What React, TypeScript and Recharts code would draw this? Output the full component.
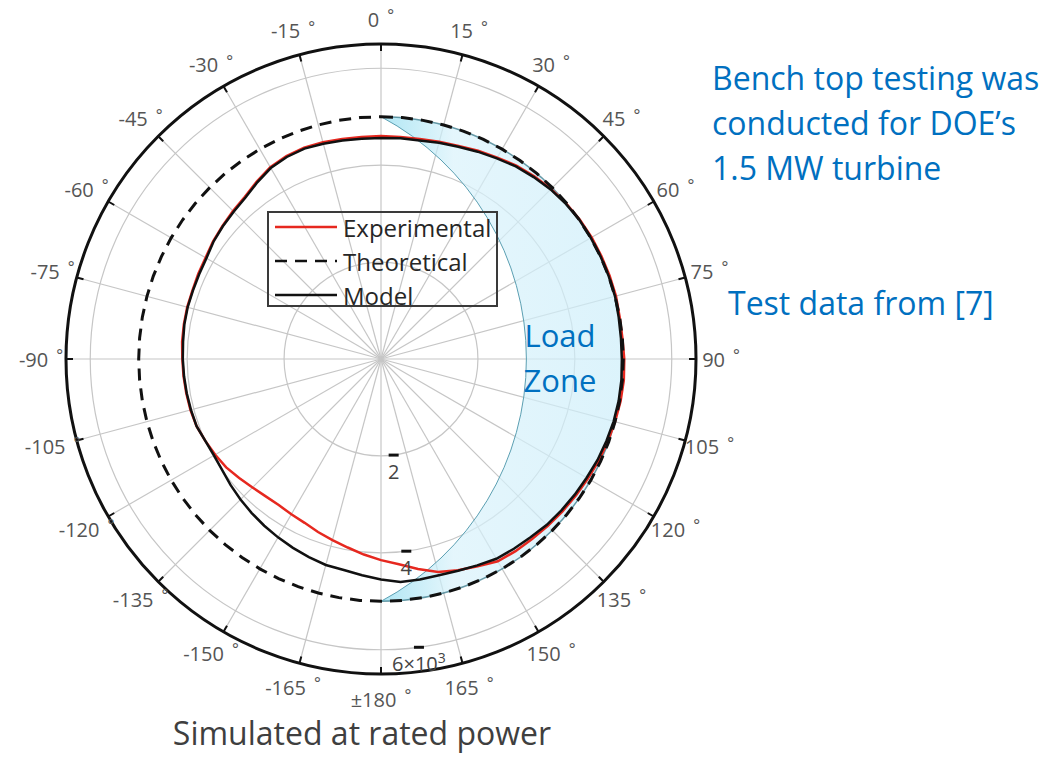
import { RadarChart, Radar, PolarGrid, PolarAngleAxis, PolarRadiusAxis, Legend } from 'recharts';

const ANGLES = [
  0, 5, 10, 15, 20, 25, 30, 35, 40, 45, 50, 55, 60, 65, 70, 75, 80, 85, 90, 95, 100, 105, 110, 115,
  120, 125, 130, 135, 140, 145, 150, 155, 160, 165, 170, 175, 180, 185, 190, 195, 200, 205, 210, 215,
  220, 225, 230, 235, 240, 245, 250, 255, 260, 265, 270, 275, 280, 285, 290, 295, 300, 305, 310, 315,
  320, 325, 330, 335, 340, 345, 350, 355,
];

const EXPERIMENTAL = [
  4600, 4600, 4610, 4640, 4680, 4740, 4800, 4870, 4920, 4960, 4990, 5010,
  5020, 5020, 5020, 5020, 5000, 5000, 5020, 5030, 5020, 5000, 4980, 4960,
  4930, 4910, 4890, 4870, 4850, 4840, 4820, 4720, 4640, 4550, 4400, 4250,
  4150, 4050, 3950, 3870, 3800, 3730, 3700, 3680, 3700, 3750, 3820, 3900,
  3950, 4000, 4050, 4070, 4080, 4090, 4100, 4120, 4130, 4140, 4140, 4160,
  4180, 4230, 4270, 4320, 4370, 4470, 4570, 4620, 4640, 4630, 4610, 4600,
];

const THEORETICAL = [
  5000, 5000, 5000, 5000, 5000, 5000, 5000, 5000, 5000, 5000, 5000, 5000,
  5000, 5000, 5000, 5000, 5000, 5000, 5000, 5000, 5000, 5000, 5000, 5000,
  5000, 5000, 5000, 5000, 5000, 5000, 5000, 5000, 5000, 5000, 5000, 5000,
  5000, 5000, 5000, 5000, 5000, 5000, 5000, 5000, 5000, 5000, 5000, 5000,
  5000, 5000, 5000, 5000, 5000, 5000, 5000, 5000, 5000, 5000, 5000, 5000,
  5000, 5000, 5000, 5000, 5000, 5000, 5000, 5000, 5000, 5000, 5000, 5000,
];

const MODEL = [
  4560, 4570, 4580, 4620, 4660, 4720, 4780, 4850, 4900, 4950, 4980, 5000,
  5000, 5000, 5000, 5000, 4980, 4970, 4970, 4980, 4980, 4970, 4950, 4930,
  4900, 4880, 4860, 4840, 4800, 4780, 4760, 4700, 4650, 4620, 4620, 4620,
  4550, 4480, 4420, 4400, 4350, 4300, 4250, 4200, 4150, 4100, 4050, 4000,
  3980, 4000, 4050, 4060, 4070, 4080, 4090, 4100, 4120, 4130, 4130, 4140,
  4160, 4220, 4260, 4300, 4350, 4450, 4550, 4600, 4620, 4600, 4580, 4560,
];

const SERIES_ORDER = ['Experimental', 'Theoretical', 'Model'];
const ANGLE_TICKS = [0, 15, 30, 45, 60, 75, 90, 105, 120, 135, 150, 165, 180, 195, 210, 225, 240, 255, 270, 285, 300, 315, 330, 345];
const RADIUS_TICKS = [2000, 4000, 6000];
const RADIUS_MAX = 6500;

// load zone: crescent between the theoretical circle and an arc reaching this radius at 90°
const LOAD_ZONE_OUTER = 5000;
const LOAD_ZONE_INNER = 3000;

const data = ANGLES.map((angle, i) => ({
  angle,
  experimental: EXPERIMENTAL[i],
  theoretical: THEORETICAL[i],
  model: MODEL[i],
}));

const W = 1049;
const H = 757;
const CX = 381;
const CY = 359;
const OUTER = 315;
const BLUE = '#0070c0';
const TICK_FONT = '"Open Sans", "Noto Sans", sans-serif';
const NOTE_FONT = '"Open Sans", "Noto Sans", sans-serif';

const angleLabel = (a: number) => (a === 180 ? '±180' : a > 180 ? `-${360 - a}` : `${a}`);

const AngleTick = (props: any) => {
  const { x, y, payload } = props;
  const a = Number(payload.value);
  if (a % 15 !== 0) return <g />;
  const dx = x - CX;
  const dy = y - CY;
  const len = Math.hypot(dx, dy) || 1;
  const ux = dx / len;
  const uy = dy / len;
  const lr = OUTER + 25;
  return (
    <g>
      <line
        x1={CX + ux * OUTER}
        y1={CY + uy * OUTER}
        x2={CX + ux * (OUTER - 7)}
        y2={CY + uy * (OUTER - 7)}
        stroke="#111"
        strokeWidth={2}
      />
      <text
        x={CX + ux * lr}
        y={CY + uy * lr}
        textAnchor="middle"
        dominantBaseline="central"
        fontFamily={TICK_FONT}
        fontSize={20}
        fill="#555"
      >
        {angleLabel(a)}
        <tspan dx={8} fontSize={16} dy={-4}>°</tspan>
      </text>
    </g>
  );
};

const RadiusTick = (props: any) => {
  const { x, y, payload } = props;
  const v = Number(payload.value) / 1000;
  return (
    <g>
      <line x1={x - 5} y1={y} x2={x + 5} y2={y} stroke="#111" strokeWidth={3} />
      <text x={x} y={y + 24} textAnchor="middle" fontFamily={TICK_FONT} fontSize={20} fill="#444">
        {v === 6 ? (
          <>
            6×10<tspan fontSize={14} dy={-8}>3</tspan>
          </>
        ) : (
          v
        )}
      </text>
    </g>
  );
};

const LoadZone = () => {
  const ro = (LOAD_ZONE_OUTER / RADIUS_MAX) * OUTER;
  const s = (LOAD_ZONE_INNER / RADIUS_MAX) * OUTER;
  const R = (ro * ro + s * s) / (2 * s);
  const d = `M ${CX} ${CY - ro} A ${ro} ${ro} 0 0 1 ${CX} ${CY + ro} A ${R} ${R} 0 0 0 ${CX} ${CY - ro} Z`;
  return (
    <g>
      <defs>
        <linearGradient id="lz" x1="0" y1="0" x2="1" y2="0">
          <stop offset="0%" stopColor="#8fdcef" />
          <stop offset="30%" stopColor="#d9f2fb" />
          <stop offset="100%" stopColor="#cdeefa" />
        </linearGradient>
      </defs>
      <path d={d} fill="url(#lz)" fillOpacity={0.7} stroke="none" />
      <path d={`M ${CX} ${CY - ro} A ${ro} ${ro} 0 0 1 ${CX} ${CY + ro}`} fill="none" stroke="#2b6f80" strokeWidth={1.5} strokeOpacity={0.7} />
      <path d={`M ${CX} ${CY + ro} A ${R} ${R} 0 0 0 ${CX} ${CY - ro}`} fill="none" stroke="#5b9fb2" strokeWidth={1} />
      <text x={560} y={347} textAnchor="middle" fontFamily={NOTE_FONT} fontSize={31} fill={BLUE}>Load</text>
      <text x={560} y={392} textAnchor="middle" fontFamily={NOTE_FONT} fontSize={31} fill={BLUE}>Zone</text>
    </g>
  );
};

const Notes = () => (
  <g fontFamily={NOTE_FONT} fill={BLUE} fontSize={32}>
    <text x={712} y={90}>Bench top testing was</text>
    <text x={712} y={135}>conducted for DOE’s</text>
    <text x={712} y={180}>1.5 MW turbine</text>
    <text x={728} y={315}>Test data from [7]</text>
    <text x={362} y={745} textAnchor="middle" fill="#3f3f3f">Simulated at rated power</text>
  </g>
);

const LegendBox = (props: any) => {
  const items = [...(props.payload || [])].sort(
    (a: any, b: any) => SERIES_ORDER.indexOf(a.value) - SERIES_ORDER.indexOf(b.value),
  );
  return (
    <svg width={231} height={96} style={{ display: 'block', overflow: 'visible' }}>
      <rect x={1} y={1} width={229} height={94} fill="none" stroke="#3a3a3a" strokeWidth={2} />
      {items.map((entry: any, i: number) => {
        const yy = 16 + i * 34;
        const dash = entry.payload?.strokeDasharray;
        return (
          <g key={entry.value}>
            <line x1={8} y1={yy} x2={70} y2={yy} stroke={entry.color} strokeWidth={2.5} strokeDasharray={dash} />
            <text x={76} y={yy} dominantBaseline="central" fontFamily={TICK_FONT} fontSize={24} fill="#262626">
              {entry.value}
            </text>
          </g>
        );
      })}
    </svg>
  );
};

export default function App() {
  return (
    <div style={{ position: 'absolute', left: 0, top: 0, width: W, height: H, background: '#fff' }}>
      <RadarChart
        width={W}
        height={H}
        data={data}
        cx={CX}
        cy={CY}
        outerRadius={OUTER}
        startAngle={90}
        endAngle={-270}
        margin={{ top: 0, right: 0, bottom: 0, left: 0 }}
      >
        <PolarGrid
          gridType="circle"
          stroke="#c6c6c6"
          strokeWidth={1.2}
          polarAngles={ANGLE_TICKS.map((a) => 90 - a)}
        />
        <PolarAngleAxis
          dataKey="angle"
          axisLineType="circle"
          axisLine={{ stroke: '#111', strokeWidth: 3 }}
          tickLine={false}
          tick={AngleTick}
        />
        <PolarRadiusAxis
          angle={-82.5}
          type="number"
          domain={[0, RADIUS_MAX]}
          allowDataOverflow
          tickCount={14}
          ticks={RADIUS_TICKS}
          axisLine={false}
          tickLine={false}
          tick={RadiusTick}
        />
        <Radar
          name="Experimental"
          dataKey="experimental"
          stroke="#e6281f"
          strokeWidth={2.5}
          fill="none"
          fillOpacity={0}
          dot={false}
          isAnimationActive={false}
        />
        <Radar
          name="Theoretical"
          dataKey="theoretical"
          stroke="#111"
          strokeWidth={3}
          strokeDasharray="12 8"
          fill="none"
          fillOpacity={0}
          dot={false}
          isAnimationActive={false}
        />
        <Radar
          name="Model"
          dataKey="model"
          stroke="#111"
          strokeWidth={2.5}
          fill="none"
          fillOpacity={0}
          dot={false}
          isAnimationActive={false}
        />
        <LoadZone />
        <Notes />
        <Legend
          layout="vertical"
          align="center"
          verticalAlign="middle"
          content={LegendBox}
          wrapperStyle={{ position: 'absolute', left: 267, top: 211, width: 231, height: 96 }}
        />
      </RadarChart>
    </div>
  );
}
